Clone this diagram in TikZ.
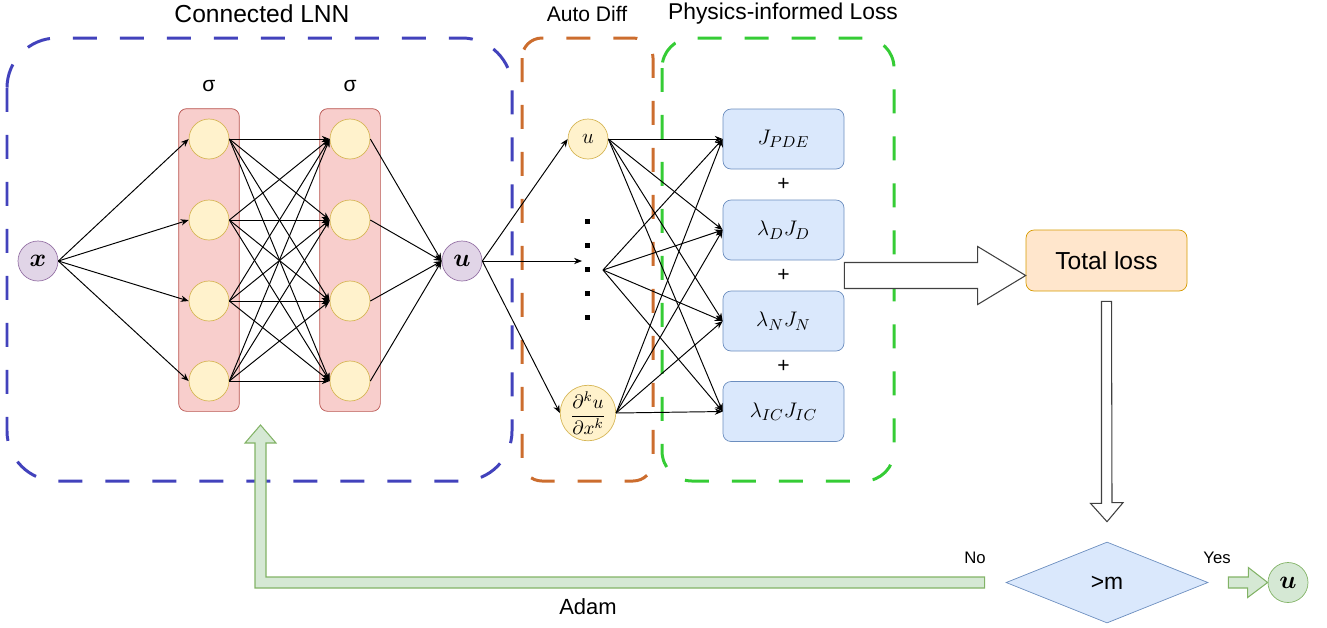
\documentclass[tikz,border=0pt]{standalone}
\usepackage{fontspec}
\setsansfont{Liberation Sans}
\usepackage{bm}
\usetikzlibrary{arrows.meta,shapes.geometric,fit,backgrounds,calc}

\definecolor{purF}{HTML}{E1D5E7}
\definecolor{purB}{HTML}{9673A6}
\definecolor{yelF}{HTML}{FFF2CC}
\definecolor{yelB}{HTML}{D6B656}
\definecolor{redF}{HTML}{F8CECC}
\definecolor{redB}{HTML}{B85450}
\definecolor{bluF}{HTML}{DAE8FC}
\definecolor{bluB}{HTML}{6C8EBF}
\definecolor{oraF}{HTML}{FFE6CC}
\definecolor{oraB}{HTML}{D79B00}
\definecolor{grnF}{HTML}{D5E8D4}
\definecolor{grnB}{HTML}{82B366}
\definecolor{grpBlue}{HTML}{4242BC}
\definecolor{grpOrange}{HTML}{CC6D2E}
\definecolor{grpGreen}{HTML}{35CC35}

\tikzset{
  neuron/.style={draw=yelB, fill=yelF, circle, minimum size=0.8cm, inner sep=0pt},
  io/.style={draw=purB, fill=purF, circle, minimum size=0.8cm, inner sep=0pt, font=\fontsize{14.4}{14.4}\selectfont},
  layer/.style={draw=redB, fill=redF, rectangle, rounded corners=0.16cm, inner sep=0.2cm},
  loss/.style={draw=bluB, fill=bluF, rectangle, rounded corners=0.16cm, minimum width=2.42cm, minimum height=1.2cm, font=\fontsize{13}{13}\selectfont},
  group/.style={line width=1.7pt, dash pattern=on 0.48cm off 0.46cm},
  conn/.style={-{Stealth[length=4.5pt,width=3.6pt]}, line width=0.55pt},
  dotsq/.style={fill=black, rectangle, minimum size=0.1cm, inner sep=0pt},
  txt/.style={font=\sffamily\fontsize{#1}{#1}\selectfont},
  hollow/.style={draw=black!75, fill=white, line width=0.6pt},
  green arrow/.style={draw=grnB, fill=grnF, line width=0.6pt}
}

\begin{document}
\begin{tikzpicture}[x=0.02cm, y=-0.02cm]
\useasboundingbox (0,0) rectangle (1327,627);

% dashed groups and their titles
\draw[group, draw=grpBlue, rounded corners=1cm] (7,38) rectangle (512,481);
\draw[group, draw=grpOrange, rounded corners=0.4cm] (522,38) rectangle (653,481);
\draw[group, draw=grpGreen, rounded corners=0.6cm] (662,38) rectangle (894,481);
\node[txt=14] (tLNN) at (262,14) {Connected LNN};
\node[txt=12] (tAD) at (587,14) {Auto Diff};
\node[txt=13] (tPIL) at (783,14) {Physics-informed Loss};

% network
\node[io] (x) at (38,261) {$\bm{x}$};
\foreach \i/\y in {1/139,2/220,3/301,4/381} {
  \node[neuron] (a\i) at (209,\y) {};
  \node[neuron] (b\i) at (350,\y) {};
}
\begin{scope}[on background layer]
\node[layer, fit=(a1)(a4)] (la) {};
\node[layer, fit=(b1)(b4)] (lb) {};
\end{scope}
\node[txt=12] (sa) at (209,86) {σ};
\node[txt=12] (sb) at (350,86) {σ};
\node[io] (u) at (462,261) {$\bm{u}$};

\foreach \i in {1,...,4} {
  \path[draw,conn] (x.east) -- (a\i.west);
  \path[draw,conn] (b\i.east) -- (u.west);
  \foreach \j in {1,...,4}
    \path[draw,conn] (a\i.east) -- (b\j.west);
}

% auto diff
\node[neuron, font=\fontsize{12}{12}\selectfont] (du) at (588,139) {$u$};
\node[neuron, minimum size=1cm, font=\fontsize{11}{11}\selectfont] (dk) at (588,413) {$\displaystyle\frac{\partial^k u}{\partial x^k}$};
\foreach \k/\y in {1/221,2/245,3/269,4/293,5/317}
  \node[dotsq] (d\k) at (587,\y) {};
\coordinate (din) at (582,261);
\coordinate (dout) at (603,270);
\path[draw,conn] (u.east) -- (du.west);
\path[draw,conn] (u.east) -- (din);
\path[draw,conn] (u.east) -- (dk.west);

% loss terms
\node[loss] (lP) at (783.5,139) {$J_{PDE}$};
\node[loss] (lD) at (783.5,230) {$\lambda_D J_D$};
\node[loss] (lN) at (783.5,321) {$\lambda_N J_N$};
\node[loss] (lI) at (783.5,411.5) {$\lambda_{IC} J_{IC}$};
\node[txt=12] (p1) at ($(lP.south)!.5!(lD.north)$) {+};
\node[txt=12] (p2) at ($(lD.south)!.5!(lN.north)$) {+};
\node[txt=12] (p3) at ($(lN.south)!.5!(lI.north)$) {+};
\foreach \s in {du.east,dout,dk.east}
  \foreach \t in {lP,lD,lN,lI}
    \path[draw,conn] (\s) -- (\t.west);

% total loss and stopping test
\node[draw=oraB, fill=oraF, rectangle, rounded corners=0.16cm, minimum width=3.22cm, minimum height=1.22cm, txt=14] (tot) at (1106.5,260.5) {Total loss};
\node[draw=bluB, fill=bluF, diamond, minimum width=4.04cm, minimum height=1.62cm, inner sep=0pt, txt=13] (dec) at (1107,582.5) {>m};
\node[draw=grnB, fill=grnF, circle, minimum size=0.8cm, inner sep=0pt, font=\fontsize{14.4}{14.4}\selectfont] (out) at (1288,582.5) {$\bm{u}$};
\node[txt=9.5] (no) at (975,558) {No};
\node[txt=9.5] (yes) at (1217,558) {Yes};
\node[txt=12.5] (adam) at (588,607) {Adam};

% block arrows
\coordinate (arrin) at ($(lD.south east)!.5!(lN.north east)$);
\coordinate (arrout) at (tot.west |- arrin);
\draw[hollow] ($(arrin)+(0,-13)$) -- ($(arrout)+(-48,-13)$) -- ++(0,-16) -- (arrout)
  -- ++(-48,29) -- ++(0,-16) -- ($(arrin)+(0,13)$) -- cycle;
\draw[hollow] ($(tot.south)+(-5,10)$) -- ++(0,202) -- ++(-11,0) -- ($(dec.north)+(0,-20)$)
  -- ++(16,-19) -- ++(-11,0) -- ($(tot.south)+(5,10)$) -- cycle;
\draw[green arrow] ($(dec.east)+(20,-5.5)$) -- ++(20,0) -- ++(0,-9.5) -- (out.west)
  -- ++(-20,15) -- ++(0,-9.5) -- ($(dec.east)+(20,5.5)$) -- cycle;
\coordinate (fb) at (260.5,425);
\draw[green arrow] ($(dec.west)+(-21,-5.5)$) -- ($(fb)+(5.5,577-425)$) -- ($(fb)+(5.5,18)$)
  -- ++(10,0) -- (fb) -- ++(-15.5,18) -- ++(10,0) -- ($(fb)+(-5.5,588-425)$)
  -- ($(dec.west)+(-21,5.5)$) -- cycle;
\end{tikzpicture}
\end{document}
